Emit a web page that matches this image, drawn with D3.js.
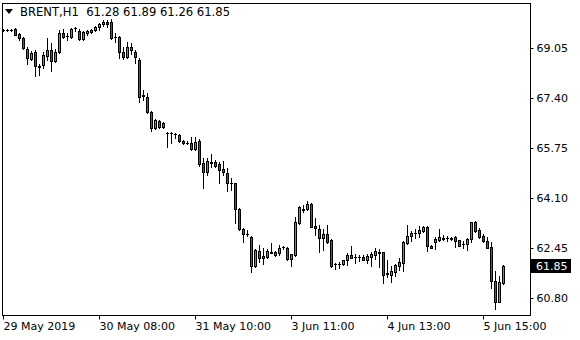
<!DOCTYPE html>
<html><head><meta charset="utf-8">
<script src="https://cdn.jsdelivr.net/npm/d3@7/dist/d3.min.js"></script>
<style>
html,body{margin:0;padding:0;background:#fff;}
svg{display:block;font-family:"DejaVu Sans",sans-serif;}
</style></head>
<body><svg id="c" width="580" height="340"></svg>
<script>
const symbol = "BRENT,H1";
const open = [69.64,69.64,69.64,69.68,69.51,69.38,69.02,68.69,68.92,68.44,68.49,68.79,68.98,68.62,68.92,69.55,69.45,69.41,69.71,69.61,69.35,69.55,69.58,69.64,69.74,69.84,69.91,69.91,69.41,69.41,
68.92,68.75,69.08,68.92,68.65,67.50,67.43,66.94,66.41,66.64,66.44,66.24,66.24,66.21,66.18,65.98,65.91,65.91,65.72,65.98,
65.25,64.96,65.29,65.29,65.22,65.06,64.93,64.59,64.59,63.74,63.08,62.91,62.81,61.86,62.35,62.19,62.15,62.32,62.32,62.28,
62.48,62.45,62.09,62.22,63.27,63.74,63.74,63.90,63.18,63.08,62.78,62.91,62.71,61.92,61.92,61.92,62.05,62.22,62.15,62.15,
62.15,62.05,62.15,62.22,62.32,62.32,61.62,61.56,61.66,61.86,61.96,62.62,62.85,62.95,62.95,63.01,63.14,62.52,62.65,62.71,
62.78,62.78,62.78,62.81,62.71,62.59,62.59,62.75,63.31,63.04,62.85,62.68,62.48,61.36,60.67,61.28];
const high = [69.68,69.68,69.68,69.71,69.55,69.41,69.08,68.95,68.98,68.52,68.92,69.38,69.22,69.02,69.64,69.68,69.55,69.71,69.74,69.68,69.61,69.64,69.68,69.78,69.88,69.97,69.97,70.01,69.55,69.45,
69.08,69.25,69.22,68.98,68.72,67.66,67.56,66.97,66.71,66.67,66.61,66.28,66.28,66.24,66.21,66.01,65.98,66.11,66.11,66.05,
65.42,65.42,65.55,65.35,65.29,65.32,65.09,64.76,64.60,63.77,63.11,63.04,62.85,62.42,62.55,62.45,62.42,62.62,62.35,62.55,
62.52,62.48,62.25,63.47,63.84,63.87,64.00,63.94,63.44,63.21,63.08,63.21,62.75,61.96,61.99,61.99,62.28,62.52,62.25,62.22,
62.22,62.25,62.32,62.45,62.42,62.33,62.05,61.86,61.92,62.12,62.68,63.21,63.01,63.08,63.18,63.18,63.18,62.55,62.81,63.08,
62.88,62.85,62.81,62.85,62.72,62.68,62.78,63.32,63.34,63.11,62.91,62.81,62.65,61.69,61.53,61.89];
const low = [69.61,69.61,69.61,69.48,69.31,69.02,68.52,68.65,68.13,68.16,68.39,68.65,68.29,68.59,68.90,69.38,69.31,69.38,69.61,69.31,69.31,69.48,69.55,69.61,69.64,69.78,69.74,69.35,69.25,68.72,
68.69,68.72,68.85,68.56,67.27,67.33,66.90,66.31,66.38,66.41,66.41,65.78,65.91,66.08,65.95,65.88,65.88,65.68,65.68,65.16,
64.43,64.86,65.12,65.12,64.59,64.86,64.33,64.36,63.27,63.04,62.65,62.85,61.66,61.82,61.99,61.92,62.12,62.28,62.19,62.22,
62.42,62.05,61.86,62.19,63.24,63.64,63.70,63.13,62.88,62.32,62.38,62.62,61.82,61.76,61.79,61.89,61.89,62.11,61.96,62.02,
62.04,61.96,61.86,62.09,61.82,61.29,61.49,61.33,61.53,61.72,61.69,62.59,62.68,62.78,62.81,62.98,62.35,62.44,62.42,62.68,
62.71,62.68,62.71,62.48,62.51,62.45,62.38,62.65,62.98,62.78,62.65,62.44,61.13,60.44,60.66,61.26];
const close = [69.65,69.63,69.65,69.48,69.38,69.05,68.72,68.88,68.46,68.43,68.82,68.98,68.62,68.92,69.55,69.41,69.44,69.68,69.70,69.35,69.58,69.61,69.66,69.74,69.84,69.91,69.84,69.38,69.40,68.92,
68.75,69.08,68.98,68.75,67.43,67.48,66.94,66.41,66.67,66.44,66.58,66.23,66.23,66.20,65.98,65.91,65.90,65.72,65.95,65.22,
64.96,65.32,65.27,65.16,65.02,64.96,64.59,64.58,63.74,63.08,62.91,62.90,61.86,62.38,62.12,62.12,62.35,62.30,62.22,62.45,
62.47,62.09,62.25,63.31,63.80,63.72,63.90,63.14,63.11,62.78,62.91,62.65,61.86,61.91,61.91,62.05,62.22,62.12,62.14,62.14,
62.05,62.19,62.25,62.35,62.30,61.56,61.59,61.69,61.89,61.99,62.65,62.85,62.95,62.93,63.04,63.14,62.52,62.45,62.75,62.81,
62.76,62.77,62.76,62.68,62.52,62.57,62.75,63.31,63.01,62.81,62.68,62.45,61.36,60.67,61.33,61.85];
const priceTicks = [60.80, 62.45, 64.10, 65.75, 67.40, 69.05];
const timeTickIndex = [0, 24, 48, 72, 96, 120];
const timeTickLabels = ["29 May 2019", "30 May 08:00", "31 May 10:00", "3 Jun 11:00", "4 Jun 13:00", "5 Jun 15:00"];

const N = close.length;
const svg = d3.select("#c");
const L = 2, R = 530, T = 3, B = 315;
const x = d3.scaleLinear().domain([0, N - 1]).range([3, 503]);
const y = d3.scaleLinear().domain([62.45, 69.05]).range([248, 48]);
const upCol = "#3cb043", dnCol = "#e0201b";

const g = svg.append("g");
d3.range(N).forEach(i => {
  const cx = Math.round(x(i));
  const o = open[i], c = close[i];
  const yh = Math.round(y(high[i])), yl = Math.round(y(low[i]));
  g.append("line").attr("x1", cx + 0.5).attr("x2", cx + 0.5)
    .attr("y1", yh).attr("y2", yl + 1).attr("stroke", "#000").attr("stroke-width", 1);
  const top = Math.round(y(Math.max(o, c))), bot = Math.round(y(Math.min(o, c)));
  if (bot - top < 1) {
    g.append("line").attr("x1", cx - 1).attr("x2", cx + 2)
      .attr("y1", top + 0.5).attr("y2", top + 0.5).attr("stroke", "#000");
  } else {
    g.append("rect").attr("x", cx - 0.5).attr("y", top + 0.5)
      .attr("width", 2).attr("height", bot - top)
      .attr("fill", c >= o ? upCol : dnCol).attr("stroke", "#000").attr("stroke-width", 1);
  }
});

// frame
svg.append("rect").attr("x", L + 0.5).attr("y", T + 0.5).attr("width", R - L).attr("height", B - T)
  .attr("fill", "none").attr("stroke", "#000");

// price axis
const ya = svg.append("g").attr("transform", `translate(${R + 0.5},0)`)
  .call(d3.axisRight(y).tickValues(priceTicks).tickSize(3).tickPadding(3).tickFormat(d3.format(".2f")));
ya.select(".domain").remove();
ya.selectAll("text").attr("font-size", 11).attr("font-family", "DejaVu Sans").attr("fill", "#000");
ya.selectAll("line").attr("stroke", "#000");

// time axis
const xa = svg.append("g").attr("transform", `translate(0,${B + 0.5})`)
  .call(d3.axisBottom(x).tickValues(timeTickIndex).tickSize(4).tickFormat((d, i) => timeTickLabels[i]));
xa.select(".domain").remove();
xa.selectAll(".tick").attr("transform", d => `translate(${Math.round(x(d)) + 0.5},0)`);
xa.selectAll("text").attr("text-anchor", "start").attr("x", 0).attr("y", 7)
  .attr("font-size", 11).attr("font-family", "DejaVu Sans").attr("fill", "#000");
xa.selectAll("line").attr("stroke", "#000");

// last price box
const last = close[N - 1];
const ly = Math.round(y(last));
svg.append("rect").attr("x", R + 1).attr("y", ly - 7).attr("width", 40).attr("height", 14).attr("fill", "#000");
svg.append("text").attr("x", R + 6).attr("y", ly).attr("dy", "0.35em").attr("font-size", 11)
  .attr("fill", "#fff").text(d3.format(".2f")(last));

// header
svg.append("path").attr("d", "M5,9 L13,9 L9,14 Z").attr("fill", "#000");
svg.append("text").attr("x", 20).attr("y", 12).attr("dy", "0.35em").attr("font-size", 11.6).attr("fill", "#000")
  .attr("xml:space", "preserve").style("white-space", "pre")
  .text(`${symbol}  ${d3.format(".2f")(open[N-1])} ${d3.format(".2f")(high[N-1])} ${d3.format(".2f")(low[N-1])} ${d3.format(".2f")(close[N-1])}`);
</script></body></html>
